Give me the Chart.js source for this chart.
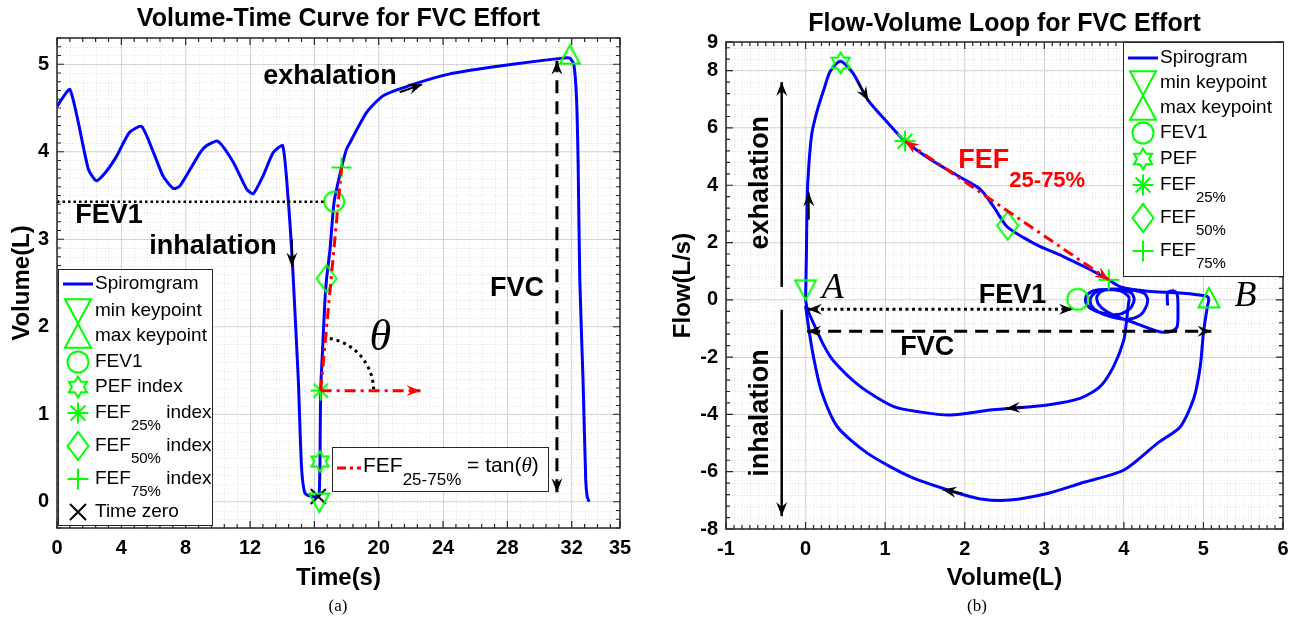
<!DOCTYPE html>
<html>
<head>
<meta charset="utf-8">
<script src="https://cdn.jsdelivr.net/npm/chart.js@4.4.1/dist/chart.umd.min.js"></script>
<style>
  body { margin: 0; background: #fff; }
  #wrap { position: relative; width: 1304px; height: 623px; }
  .box { position: absolute; top: 0; width: 652px; height: 623px; }
</style>
</head>
<body>
<div id="wrap">
  <div class="box" style="left:0"><canvas id="vt" width="652" height="623"></canvas></div>
  <div class="box" style="left:652px"><canvas id="fv" width="652" height="623"></canvas></div>
</div>
<script>
// ---------- (a) volume-time curve ----------
const vtTime = [0, 0.81, 1.95, 2.45, 3.0, 3.71, 4.5, 5.26, 6.0, 6.6, 7.23, 7.64, 8.9, 9.3, 10.0, 10.96, 11.8, 12.2, 12.8, 13.44,
  14.03, 14.37, 14.59, 14.69, 15.0, 15.2, 15.41, 15.83, 16.24, 16.3, 16.35, 16.39, 16.51, 16.66, 16.76, 16.97, 17.23, 17.69, 18.0, 18.2,
  19.25, 20.28, 22.14, 24.43, 27.53, 29.6, 31.47, 31.88, 32.13, 32.3, 32.4, 32.5, 32.7, 32.87, 32.96, 33.08];
const vtVolume = [4.52, 4.71, 3.80, 3.67, 3.76, 3.95, 4.22, 4.29, 3.99, 3.72, 3.58, 3.61, 3.99, 4.07, 4.12, 3.88, 3.57, 3.52, 3.72, 3.99,
  4.07, 3.46, 2.88, 2.54, 1.40, 0.40, 0.10, 0.06, 0.06, 0.08, 0.46, 1.27, 1.74, 2.31, 2.55, 2.88, 3.43, 3.82, 4.03, 4.10,
  4.45, 4.64, 4.77, 4.89, 4.98, 5.03, 5.07, 5.07, 5.0, 4.6, 3.84, 2.54, 1.40, 0.25, 0.06, 0.0];
const vtXTicks = [0, 4, 8, 12, 16, 20, 24, 28, 32, 35];
const vtYTicks = [0, 1, 2, 3, 4, 5];

// key points: min, max, FEV1, PEF, FEF25, FEF50, FEF75, time zero
const vtKeys = ['min', 'max', 'fev1', 'pef', 'fef25', 'fef50', 'fef75', 't0'];
const vtKeyTime = [16.3, 31.88, 17.23, 16.35, 16.39, 16.76, 17.69, 16.24];
const vtKeyVolume = [-0.01, 5.11, 3.43, 0.46, 1.27, 2.55, 3.82, 0.06];

// ---------- (b) flow-volume loop ----------
const fvTidalVol = [4.55, 4.55, 4.62, 4.67, 4.68, 4.67, 4.6, 4.46, 4.3, 4.15, 3.95, 3.78, 3.68, 3.66, 3.72, 3.85, 4.0, 4.15, 4.26, 4.30,
  4.27, 4.2, 4.05, 3.85, 3.68, 3.59, 3.58, 3.65, 3.8, 3.98, 4.1, 4.13, 4.08, 3.95, 3.75, 3.58, 3.52, 3.53, 3.62, 3.8, 3.97, 4.05, 4.07];
const fvTidalFlow = [-0.2, 0.25, 0.32, 0.2, -0.3, -0.94, -1.1, -1.12, -0.98, -0.82, -0.62, -0.4, -0.15, 0.1, 0.3, 0.38, 0.36, 0.32, 0.22, 0.0,
  -0.3, -0.55, -0.68, -0.6, -0.42, -0.2, 0.05, 0.28, 0.36, 0.34, 0.22, 0.0, -0.3, -0.5, -0.48, -0.3, -0.08, 0.15, 0.32, 0.36, 0.3, 0.15, 0.05];
const fvInhale1Vol = [4.07, 4.06, 4.04, 4.0, 3.87, 3.7, 3.45, 3.04, 2.62, 2.32, 1.82, 1.45, 1.11, 0.69, 0.36, 0.23, 0.08, 0.02, 0.0];
const fvInhale1Flow = [0.05, -0.1, -0.58, -1.4, -2.33, -3.03, -3.44, -3.67, -3.78, -3.85, -4.02, -3.92, -3.73, -3.03, -2.16, -1.6, -0.7, -0.3, 0.0];
const fvExhaleVol = [0.0, 0.01, 0.02, 0.04, 0.08, 0.15, 0.23, 0.31, 0.44, 0.6, 0.78, 1.03, 1.25, 1.57, 1.95, 2.2, 2.36, 2.53, 2.74, 2.95,
  3.24, 3.58, 3.81, 3.96, 4.3, 4.71, 5.05, 5.07];
const fvExhaleFlow = [0.0, 1.5, 3.5, 4.66, 5.83, 6.64, 7.34, 7.98, 8.33, 7.9, 6.99, 6.19, 5.54, 4.9, 4.27, 3.85, 3.26, 2.56, 2.17, 1.86,
  1.51, 1.05, 0.7, 0.45, 0.3, 0.24, 0.12, 0.0];
const fvInhale2Vol = [5.07, 5.05, 5.0, 4.96, 4.88, 4.71, 4.42, 4.0, 3.45, 3.04, 2.57, 2.2, 1.86, 1.32, 0.78, 0.4, 0.2, 0.1, 0.04, 0.0];
const fvInhale2Flow = [0.0, -0.23, -1.16, -2.33, -3.43, -4.43, -5.01, -5.94, -6.41, -6.76, -6.99, -6.95, -6.7, -6.18, -5.36, -4.43, -3.2, -2.0, -1.0, -0.2];
const fvXTicks = [-1, 0, 1, 2, 3, 4, 5, 6];
const fvYTicks = [-8, -6, -4, -2, 0, 2, 4, 6, 8, 9];

const fvKeys = ['min', 'max', 'fev1', 'pef', 'fef25', 'fef50', 'fef75'];
const fvKeyVol = [0.0, 5.07, 3.42, 0.44, 1.25, 2.54, 3.81];
const fvKeyFlow = [0.35, 0.07, 0.02, 8.27, 5.54, 2.59, 0.7];

// ---------- styling ----------
const FONT = '"Liberation Sans", Arial, Helvetica, sans-serif';
const SERIF = '"Liberation Serif", "Times New Roman", serif';
const BLUE = '#0000ff', GREEN = '#00ff00', RED = '#ff0000';
const markerType = { min: 'tdown', max: 'tup', fev1: 'circle', pef: 'hex', fef25: 'star', fef50: 'diamond', fef75: 'plus', t0: 'x' };

function drawMarker(g, type, x, y, s, color, lw) {
  g.save();
  g.strokeStyle = color; g.lineWidth = lw; g.beginPath();
  if (type === 'tdown' || type === 'tup') {
    const d = type === 'tdown' ? 1 : -1;
    g.moveTo(x - s, y - d * s * 0.9); g.lineTo(x + s, y - d * s * 0.9); g.lineTo(x, y + d * s * 0.95); g.closePath();
  } else if (type === 'circle') {
    g.arc(x, y, s, 0, Math.PI * 2);
  } else if (type === 'diamond') {
    g.moveTo(x, y - s * 1.35); g.lineTo(x + s, y); g.lineTo(x, y + s * 1.35); g.lineTo(x - s, y); g.closePath();
  } else if (type === 'hex') {
    for (let k = 0; k < 12; k++) {
      const r = k % 2 ? s * 0.577 : s, a = -Math.PI / 2 + k * Math.PI / 6;
      const px = x + r * Math.cos(a), py = y + r * Math.sin(a);
      if (k === 0) g.moveTo(px, py); else g.lineTo(px, py);
    }
    g.closePath();
  } else if (type === 'star') {
    for (let k = 0; k < 4; k++) {
      const a = k * Math.PI / 4;
      g.moveTo(x - s * Math.cos(a), y - s * Math.sin(a)); g.lineTo(x + s * Math.cos(a), y + s * Math.sin(a));
    }
  } else if (type === 'plus') {
    g.moveTo(x - s, y); g.lineTo(x + s, y); g.moveTo(x, y - s); g.lineTo(x, y + s);
  } else if (type === 'x') {
    g.moveTo(x - s, y - s); g.lineTo(x + s, y + s); g.moveTo(x - s, y + s); g.lineTo(x + s, y - s);
  }
  g.stroke();
  g.restore();
}

function markerImage(type, s, color, lw) {
  const size = Math.ceil(s * 3 + lw * 2 + 2);
  const c = document.createElement('canvas');
  c.width = size; c.height = size;
  drawMarker(c.getContext('2d'), type, size / 2, size / 2, s, color, lw);
  return c;
}

function seg(ctx, p1, p2, o) {
  ctx.save();
  ctx.strokeStyle = o.color; ctx.lineWidth = o.lw; ctx.setLineDash(o.dash || []);
  ctx.beginPath(); ctx.moveTo(p1[0], p1[1]); ctx.lineTo(p2[0], p2[1]); ctx.stroke();
  ctx.restore();
}
function head(ctx, from, to, color) {
  const a = Math.atan2(to[1] - from[1], to[0] - from[0]);
  ctx.save();
  ctx.translate(to[0], to[1]); ctx.rotate(a);
  ctx.fillStyle = color; ctx.beginPath();
  ctx.moveTo(0, 0); ctx.lineTo(-14, -5.5); ctx.lineTo(-9, 0); ctx.lineTo(-14, 5.5); ctx.closePath(); ctx.fill();
  ctx.restore();
}
function arrow(ctx, p1, p2, o) {
  seg(ctx, p1, p2, o);
  head(ctx, p1, p2, o.color);
  if (o.both) head(ctx, p2, p1, o.color);
}
function text(ctx, s, x, y, size, o = {}) {
  ctx.save();
  ctx.font = (o.italic ? 'italic ' : '') + (o.bold === false ? '' : 'bold ') + size + 'px ' + (o.family || FONT);
  ctx.fillStyle = o.color || '#000';
  ctx.textAlign = o.align || 'center'; ctx.textBaseline = 'middle';
  ctx.translate(x, y);
  if (o.rot) ctx.rotate(o.rot);
  ctx.fillText(s, 0, 0);
  ctx.restore();
}
// parts: [string, kind] kind = undefined | 'sub' | 'it'
function rich(ctx, x, y, parts, size, o = {}) {
  let cx = x;
  ctx.save();
  ctx.fillStyle = o.color || '#000'; ctx.textAlign = 'left'; ctx.textBaseline = 'middle';
  for (const [s, kind] of parts) {
    const fs = kind === 'sub' ? (o.subSize || size * 0.78) : size;
    const fam = kind === 'it' ? SERIF : FONT;
    ctx.font = (kind === 'it' ? 'italic ' : '') + (o.bold ? 'bold ' : '') + fs + 'px ' + fam;
    ctx.fillText(s, cx, y + (kind === 'sub' ? (o.subDy || size * 0.6) : 0));
    cx += ctx.measureText(s).width;
  }
  ctx.restore();
}

function steps(min, max, step) {
  const out = [];
  for (let k = Math.ceil(min / step - 1e-9); k * step <= max + 1e-9; k++) out.push(k * step);
  return out;
}

function framePlugin(cfg) {
  return {
    id: 'frame',
    beforeDatasetsDraw(chart) {
      const { ctx, chartArea: a, scales: { x, y } } = chart;
      ctx.save();
      ctx.strokeStyle = 'rgba(0,0,0,0.11)'; ctx.lineWidth = 1; ctx.setLineDash([1, 2]);
      ctx.beginPath();
      for (const v of steps(x.min, x.max, cfg.xMinor)) {
        const p = Math.round(x.getPixelForValue(v)) + 0.5;
        ctx.moveTo(p, a.top); ctx.lineTo(p, a.bottom);
      }
      for (const v of steps(y.min, y.max, cfg.yMinor)) {
        const p = Math.round(y.getPixelForValue(v)) + 0.5;
        ctx.moveTo(a.left, p); ctx.lineTo(a.right, p);
      }
      ctx.stroke();
      ctx.restore();
    },
    afterDatasetsDraw(chart) {
      const { ctx, chartArea: a, scales: { x, y } } = chart;
      cfg.annotate(chart);
      ctx.save();
      ctx.strokeStyle = '#262626'; ctx.lineWidth = 1.2; ctx.beginPath();
      const tick = (vals, len, horiz) => {
        for (const v of vals) {
          if (horiz) {
            const p = x.getPixelForValue(v);
            ctx.moveTo(p, a.bottom); ctx.lineTo(p, a.bottom - len);
            ctx.moveTo(p, a.top); ctx.lineTo(p, a.top + len);
          } else {
            const p = y.getPixelForValue(v);
            ctx.moveTo(a.left, p); ctx.lineTo(a.left + len, p);
            ctx.moveTo(a.right, p); ctx.lineTo(a.right - len, p);
          }
        }
      };
      tick(steps(x.min, x.max, cfg.xMinor), 4, true);
      tick(steps(y.min, y.max, cfg.yMinor), 4, false);
      tick(cfg.xTicks, 7, true);
      tick(cfg.yTicks, 7, false);
      ctx.stroke();
      ctx.lineWidth = 1.5;
      ctx.strokeRect(a.left, a.top, a.right - a.left, a.bottom - a.top);
      ctx.restore();
      cfg.legend(chart);
    },
    afterDraw(chart) {
      const a = chart.chartArea;
      text(chart.ctx, cfg.title, (a.left + a.right) / 2, cfg.titleY, 25);
      text(chart.ctx, cfg.caption, cfg.captionX, 607, 17, { bold: false, family: SERIF });
    }
  };
}

function scale(min, max, ticks, title, size, titlePad) {
  return {
    type: 'linear', min: min, max: max,
    afterBuildTicks: s => { s.ticks = ticks.map(v => ({ value: v })); },
    afterFit: s => { if (s.isHorizontal()) s.height = size; else s.width = size; },
    grid: { color: '#dcdcdc', lineWidth: 1, drawTicks: false },
    border: { display: false },
    ticks: { color: '#000', font: { family: FONT, size: 20, weight: 'bold' }, padding: 8, maxRotation: 0, autoSkip: false },
    title: { display: true, text: title, color: '#000', font: { family: FONT, size: 24, weight: 'bold' }, padding: titlePad }
  };
}

function keyDatasets(keys, xs, ys, s) {
  return keys.map((k, i) => ({
    label: k,
    data: [{ x: xs[i], y: ys[i] }],
    showLine: false,
    pointStyle: markerImage(markerType[k], k === 't0' ? s * 0.75 : s, k === 't0' ? '#000' : GREEN, 2),
    pointRadius: s
  }));
}

function legendBox(ctx, l, t, r, b) {
  ctx.save();
  ctx.fillStyle = '#fff'; ctx.fillRect(l, t, r - l, b - t);
  ctx.strokeStyle = '#262626'; ctx.lineWidth = 1; ctx.strokeRect(l + 0.5, t + 0.5, r - l, b - t);
  ctx.restore();
}

function keyLegend(ctx, box, mx, tx, rows) {
  legendBox(ctx, box[0], box[1], box[2], box[3]);
  for (const r of rows) {
    if (r.key === 'line') {
      seg(ctx, [mx - 15, r.y], [mx + 15, r.y], { color: BLUE, lw: 3 });
    } else {
      const big = r.key === 'min' || r.key === 'max';
      drawMarker(ctx, markerType[r.key], mx, r.y, big ? 13 : (r.key === 't0' ? 8 : 10.5), r.key === 't0' ? '#000' : GREEN, 2);
    }
    rich(ctx, tx, r.y, r.parts, 19, { subSize: 15, subDy: 13 });
  }
}

// ---------- chart (a) ----------
function vtAnnotate(chart) {
  const { ctx } = chart;
  const P = (t, v) => [chart.scales.x.getPixelForValue(t), chart.scales.y.getPixelForValue(v)];
  const k = name => P(vtKeyTime[vtKeys.indexOf(name)], vtKeyVolume[vtKeys.indexOf(name)]);
  const fev = k('fev1'), f25 = k('fef25'), f75 = k('fef75');
  seg(ctx, [chart.chartArea.left, fev[1]], [fev[0] - 8, fev[1]], { color: '#000', lw: 2.5, dash: [2.5, 3] });
  seg(ctx, f25, f75, { color: RED, lw: 3, dash: [11, 5, 3, 5] });
  arrow(ctx, f25, P(22.6, vtKeyVolume[vtKeys.indexOf('fef25')]), { color: RED, lw: 3, dash: [11, 5, 3, 5] });
  // theta arc around FEF25
  const ang = Math.atan2(f75[1] - f25[1], f75[0] - f25[0]);
  ctx.save();
  ctx.strokeStyle = '#000'; ctx.lineWidth = 3; ctx.setLineDash([3, 4]);
  ctx.beginPath(); ctx.arc(f25[0], f25[1], 53, ang + 0.08, -0.03); ctx.stroke();
  ctx.restore();
  const th = P(20.1, 1.87);
  text(ctx, 'θ', th[0], th[1], 44, { italic: true, bold: false, family: SERIF });
  // FVC double arrow
  arrow(ctx, P(31.08, 0.11), P(31.08, 5.04), { color: '#000', lw: 3, dash: [13, 8], both: true });
  arrow(ctx, P(14.6, 3.0), P(14.6, 2.69), { color: '#000', lw: 2 });
  arrow(ctx, P(21.3, 4.68), P(22.7, 4.77), { color: '#000', lw: 2 });
  let p = P(3.23, 3.27); text(ctx, 'FEV1', p[0], p[1], 27);
  p = P(9.7, 2.92); text(ctx, 'inhalation', p[0], p[1], 27);
  p = P(16.97, 4.86); text(ctx, 'exhalation', p[0], p[1], 27);
  p = P(28.6, 2.44); text(ctx, 'FVC', p[0], p[1], 27);
}

function vtLegend(chart) {
  const { ctx, chartArea: a } = chart;
  keyLegend(ctx, [a.left + 1, 269, 212, 525], 78, 95, [
    { key: 'line', y: 284, parts: [['Spiromgram']] },
    { key: 'min', y: 311, parts: [['min keypoint']] },
    { key: 'max', y: 336, parts: [['max keypoint']] },
    { key: 'fev1', y: 362, parts: [['FEV1']] },
    { key: 'pef', y: 387, parts: [['PEF index']] },
    { key: 'fef25', y: 413, parts: [['FEF'], ['25%', 'sub'], [' index']] },
    { key: 'fef50', y: 446, parts: [['FEF'], ['50%', 'sub'], [' index']] },
    { key: 'fef75', y: 479, parts: [['FEF'], ['75%', 'sub'], [' index']] },
    { key: 't0', y: 512, parts: [['Time zero']] }
  ]);
  legendBox(ctx, 332, 447, 548, 491);
  seg(ctx, [337, 468], [361, 468], { color: RED, lw: 3, dash: [9, 4, 3, 4] });
  rich(ctx, 363, 466, [['FEF'], ['25-75%', 'sub'], [' = tan('], ['θ', 'it'], [')']], 21, { subSize: 17, subDy: 14 });
}

new Chart(document.getElementById('vt'), {
  type: 'scatter',
  data: {
    datasets: keyDatasets(vtKeys, vtKeyTime, vtKeyVolume, 10).concat([{
      label: 'Spiromgram',
      data: vtTime.map((t, i) => ({ x: t, y: vtVolume[i] })),
      showLine: true, borderColor: BLUE, borderWidth: 3, pointRadius: 0, tension: 0.2
    }])
  },
  options: {
    responsive: false, animation: false, events: [],
    layout: { padding: { top: 38, right: 32, left: 0, bottom: 0 } },
    plugins: { legend: { display: false }, tooltip: { enabled: false } },
    scales: {
      x: scale(0, 35, vtXTicks, 'Time(s)', 95, { top: 0, bottom: 30 }),
      y: scale(-0.3, 5.3, vtYTicks, 'Volume(L)', 57, { top: 8, bottom: 0 })
    }
  },
  plugins: [framePlugin({
    xMinor: 0.8, yMinor: 0.1, xTicks: vtXTicks, yTicks: vtYTicks,
    title: 'Volume-Time Curve for FVC Effort', titleY: 19, caption: '(a)', captionX: 338,
    annotate: vtAnnotate, legend: vtLegend
  })]
});

// ---------- chart (b) ----------
function fvAnnotate(chart) {
  const { ctx } = chart;
  const P = (v, f) => [chart.scales.x.getPixelForValue(v), chart.scales.y.getPixelForValue(f)];
  const k = name => P(fvKeyVol[fvKeys.indexOf(name)], fvKeyFlow[fvKeys.indexOf(name)]);
  arrow(ctx, k('fef25'), k('fef75'), { color: RED, lw: 3, dash: [11, 5, 3, 5], both: true });
  const fevY = -0.33, fvcY = -1.1;
  arrow(ctx, P(0.03, fevY), P(3.36, fevY), { color: '#000', lw: 3, dash: [3, 3.5], both: true });
  arrow(ctx, P(0.02, fvcY), P(5.1, fvcY), { color: '#000', lw: 3, dash: [13, 8], both: true });
  arrow(ctx, P(-0.3, 0.45), P(-0.3, 7.6), { color: '#000', lw: 2.5 });
  arrow(ctx, P(-0.3, -0.35), P(-0.3, -7.55), { color: '#000', lw: 2.5 });
  arrow(ctx, P(0.04, 2.8), P(0.04, 3.75), { color: '#000', lw: 2 });
  arrow(ctx, P(0.65, 7.62), P(0.79, 6.95), { color: '#000', lw: 2 });
  arrow(ctx, P(2.75, -3.74), P(2.52, -3.79), { color: '#000', lw: 2 });
  arrow(ctx, P(1.97, -6.76), P(1.72, -6.62), { color: '#000', lw: 2 });
  let p = P(-0.57, 4.09); text(ctx, 'exhalation', p[0], p[1], 27, { rot: -Math.PI / 2 });
  p = P(-0.57, -3.95); text(ctx, 'inhalation', p[0], p[1], 27, { rot: -Math.PI / 2 });
  p = P(1.92, 4.85); rich(ctx, p[0], p[1], [['FEF'], ['25-75%', 'sub']], 27, { color: RED, bold: true, subSize: 22, subDy: 20 });
  p = P(2.6, 0.14); text(ctx, 'FEV1', p[0], p[1], 27);
  p = P(1.53, -1.68); text(ctx, 'FVC', p[0], p[1], 27);
  p = P(0.34, 0.38); text(ctx, 'A', p[0], p[1], 36, { italic: true, bold: false, family: SERIF });
  p = P(5.53, 0.1); text(ctx, 'B', p[0], p[1], 36, { italic: true, bold: false, family: SERIF });
}

function fvLegend(chart) {
  const { ctx, chartArea: a } = chart;
  keyLegend(ctx, [471, a.top, a.right, 276], 491, 508, [
    { key: 'line', y: 58, parts: [['Spirogram']] },
    { key: 'min', y: 83, parts: [['min keypoint']] },
    { key: 'max', y: 108, parts: [['max keypoint']] },
    { key: 'fev1', y: 133, parts: [['FEV1']] },
    { key: 'pef', y: 159, parts: [['PEF']] },
    { key: 'fef25', y: 185, parts: [['FEF'], ['25%', 'sub']] },
    { key: 'fef50', y: 218, parts: [['FEF'], ['50%', 'sub']] },
    { key: 'fef75', y: 251, parts: [['FEF'], ['75%', 'sub']] }
  ]);
}

const loopStyle = { showLine: true, borderColor: BLUE, borderWidth: 3, pointRadius: 0, tension: 0.25 };
const pts = (xs, ys) => xs.map((v, i) => ({ x: v, y: ys[i] }));

new Chart(document.getElementById('fv'), {
  type: 'scatter',
  data: {
    datasets: keyDatasets(fvKeys, fvKeyVol, fvKeyFlow, 10.5).concat([
      Object.assign({ label: 'tidal', data: pts(fvTidalVol, fvTidalFlow) }, loopStyle),
      Object.assign({ label: 'inhale1', data: pts(fvInhale1Vol, fvInhale1Flow) }, loopStyle),
      Object.assign({ label: 'Spirogram', data: pts(fvExhaleVol, fvExhaleFlow) }, loopStyle),
      Object.assign({ label: 'inhale2', data: pts(fvInhale2Vol, fvInhale2Flow) }, loopStyle)
    ])
  },
  options: {
    responsive: false, animation: false, events: [],
    layout: { padding: { top: 42, right: 21, left: 0, bottom: 0 } },
    plugins: { legend: { display: false }, tooltip: { enabled: false } },
    scales: {
      x: scale(-1, 6, fvXTicks, 'Volume(L)', 94, { top: 0, bottom: 30 }),
      y: scale(-8, 9, fvYTicks, 'Flow(L/s)', 74, { top: 17, bottom: 0 })
    }
  },
  plugins: [framePlugin({
    xMinor: 0.1, yMinor: 0.4, xTicks: fvXTicks, yTicks: fvYTicks,
    title: 'Flow-Volume Loop for FVC Effort', titleY: 24, caption: '(b)', captionX: 325,
    annotate: fvAnnotate, legend: fvLegend
  })]
});
</script>
</body>
</html>
